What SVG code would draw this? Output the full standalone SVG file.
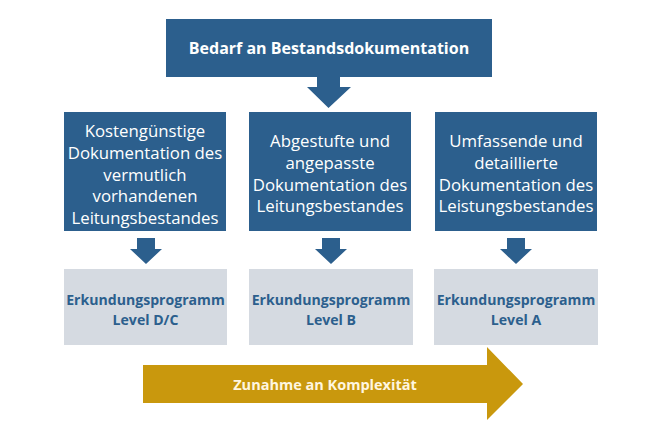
<svg xmlns="http://www.w3.org/2000/svg" width="661" height="425" viewBox="0 0 661 425">
<style>
.blue{fill:#2c5f8d}
.gray{fill:#d5dae1}
.gold{fill:#c9980d}
.t{font-family:"Open Sans","Noto Sans",sans-serif;text-anchor:middle}
.w{fill:#ffffff;font-size:16.8px}
.wb{fill:#ffffff;font-size:16px;font-weight:bold}
.gb{fill:#2c5f8d;font-size:14.1px;font-weight:bold}
.yb{fill:#fff6e0;font-size:14.5px;font-weight:bold}
</style>
<rect width="661" height="425" fill="#ffffff"/>
<g id="top">
<rect class="blue" x="166" y="19" width="326" height="58"/>
<text class="t wb" x="329" y="54">Bedarf an Bestandsdokumentation</text>
</g>
<g id="box1">
<rect class="blue" x="64" y="112" width="162" height="119"/>
<text class="t w" x="145" y="137">Kostengünstige</text>
<text class="t w" x="145" y="159">Dokumentation des</text>
<text class="t w" x="145" y="181">vermutlich</text>
<text class="t w" x="145" y="202">vorhandenen</text>
<text class="t w" x="145" y="224">Leitungsbestandes</text>
</g>
<g id="box2">
<rect class="blue" x="249" y="112" width="162" height="119"/>
<text class="t w" x="330" y="147">Abgestufte und</text>
<text class="t w" x="330" y="169">angepasste</text>
<text class="t w" x="330" y="191">Dokumentation des</text>
<text class="t w" x="330" y="212">Leitungsbestandes</text>
</g>
<g id="box3">
<rect class="blue" x="435" y="112" width="162" height="119"/>
<text class="t w" x="516" y="147">Umfassende und</text>
<text class="t w" x="516" y="169">detaillierte</text>
<text class="t w" x="516" y="191">Dokumentation des</text>
<text class="t w" x="516" y="212">Leistungsbestandes</text>
</g>
<g id="level1">
<rect class="gray" x="64" y="269" width="163" height="76"/>
<text class="t gb" x="145.5" y="305">Erkundungsprogramm</text>
<text class="t gb" x="145.5" y="325">Level D/C</text>
</g>
<g id="level2">
<rect class="gray" x="249" y="269" width="164" height="76"/>
<text class="t gb" x="331" y="305">Erkundungsprogramm</text>
<text class="t gb" x="331" y="325">Level B</text>
</g>
<g id="level3">
<rect class="gray" x="434" y="269" width="164" height="76"/>
<text class="t gb" x="516" y="305">Erkundungsprogramm</text>
<text class="t gb" x="516" y="325">Level A</text>
</g>
<g id="connectors">
<polygon class="blue" points="317,77 340,77 340,87 351,87 328.5,108 307,87 317,87"/>
<polygon class="blue" points="137,238 155,238 155,249 162,249 146,264 130,249 137,249"/>
<polygon class="blue" points="322,238 340,238 340,249 347,249 331,264 315,249 322,249"/>
<polygon class="blue" points="507,238 525,238 525,249 532,249 516,264 500,249 507,249"/>
</g>
<g id="complexity">
<polygon class="gold" points="143,365 487,365 487,347 523,384 487,420 487,403 143,403"/>
<text class="t yb" x="325" y="390">Zunahme an Komplexität</text>
</g>
</svg>
